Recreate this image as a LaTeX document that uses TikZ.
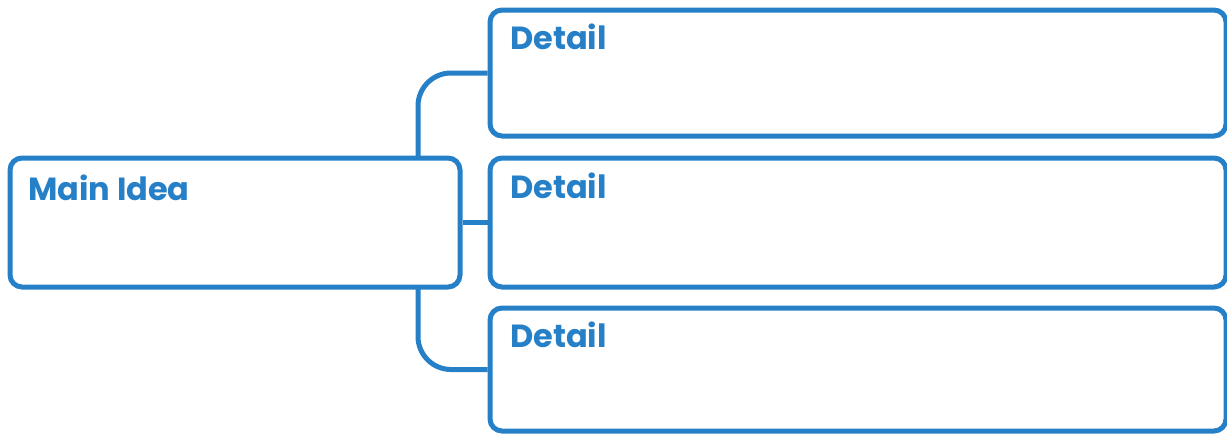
\documentclass[tikz,border=0pt]{standalone}
\usepackage{fontspec}
\setmainfont{Poppins}
\usetikzlibrary{backgrounds}
\definecolor{gblue}{RGB}{38,128,200}
\tikzset{
  box/.style={draw=gblue, line width=5pt, fill=white, rounded corners=12pt, inner sep=0pt, rectangle},
  conn/.style={draw=gblue, line width=5pt, rounded corners=33pt},
  lbl/.style={anchor=base west, text=gblue, font=\bfseries\fontsize{32}{32}\selectfont, inner sep=0pt}
}
\begin{document}
\begin{tikzpicture}[x=1pt,y=-1pt]
\useasboundingbox (0,0) rectangle (1227,434);
\node[box, minimum width=450pt, minimum height=129pt] (m) at (235,222.5) {};
\node[box, minimum width=736pt, minimum height=126pt] (d1) at (858,73) {};
\node[box, minimum width=736pt, minimum height=129pt] (d2) at (858,222.5) {};
\node[box, minimum width=736pt, minimum height=123pt] (d3) at (858,369.5) {};
\coordinate (spine) at (418,222.5);
\begin{scope}[on background layer]
\draw[conn] (d1.west) -| (spine) |- (d3.west);
\draw[conn] (m.east) -- (d2.west);
\end{scope}
\node[lbl] (tm) at (28,200) {Main Idea};
\node[lbl] (t1) at (510,49) {Detail};
\node[lbl] (t2) at (510,198) {Detail};
\node[lbl] (t3) at (510,347) {Detail};
\end{tikzpicture}
\end{document}
